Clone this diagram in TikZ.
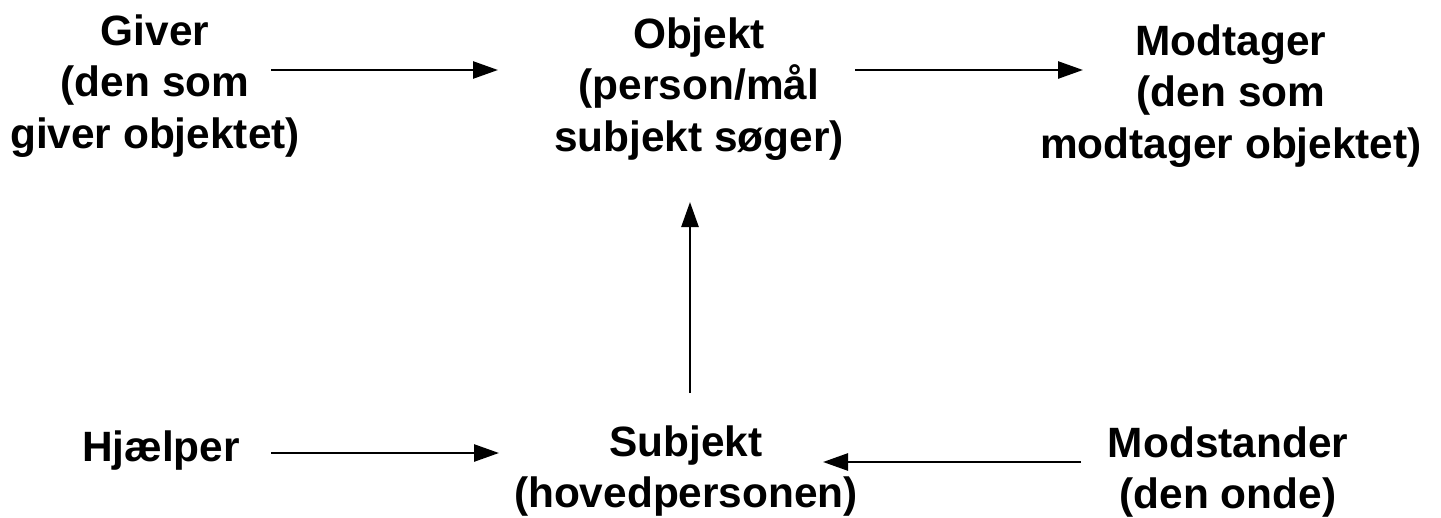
\documentclass[tikz,border=0pt]{standalone}
\usepackage{fontspec}
\setmainfont{Liberation Sans}
\usetikzlibrary{arrows.meta}
\begin{document}
\begin{tikzpicture}[x=1pt,y=-1pt,
  lbl/.style={inner sep=0pt,outer sep=0pt,anchor=base,
    font=\fontsize{42.4}{51.5}\selectfont\bfseries},
  arr/.style={line width=2.6pt,-{Triangle[length=25pt,width=17pt]}}]
\useasboundingbox (0,0) rectangle (1441,517);
\newcommand{\mlines}[1]{\begin{tabular}[t]{@{}c@{}}#1\end{tabular}}
\node[lbl] (giver)    at (155,45)  {\mlines{Giver\\(den som\\giver objektet)}};
\node[lbl] (objekt)   at (699,48)  {\mlines{Objekt\\(person/mål\\subjekt søger)}};
\node[lbl] (modtager) at (1231,55) {\mlines{Modtager\\(den som\\modtager objektet)}};
\node[lbl] (hjaelper) at (161,461) {Hjælper};
\node[lbl] (subjekt)  at (686,456) {\mlines{Subjekt\\(hovedpersonen)}};
\node[lbl] (modst)    at (1228,457) {\mlines{Modstander\\(den onde)}};
\coordinate (g1) at (271,70);  \coordinate (o1) at (498,70);
\coordinate (o2) at (855,70);  \coordinate (m1) at (1083,70);
\coordinate (h1) at (271,453); \coordinate (s1) at (499,453);
\coordinate (d1) at (1081,462); \coordinate (s2) at (823,462);
\coordinate (s3) at (690,393); \coordinate (o3) at (690,202);
\draw[arr] (g1) -- (o1);
\draw[arr] (o2) -- (m1);
\draw[arr] (h1) -- (s1);
\draw[arr] (d1) -- (s2);
\draw[arr] (s3) -- (o3);
\end{tikzpicture}
\end{document}
